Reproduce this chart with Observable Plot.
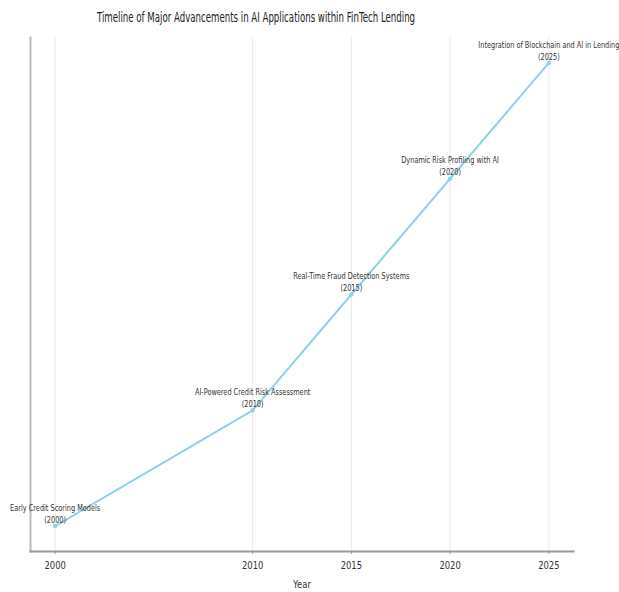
<!DOCTYPE html>
<html>
<head>
<meta charset="utf-8">
<script src="https://cdn.jsdelivr.net/npm/d3@7"></script>
<script src="https://cdn.jsdelivr.net/npm/@observablehq/plot@0.6"></script>
<style>
  html, body { margin: 0; padding: 0; background: #fff; }
  #wrap { width: 619px; height: 592px; position: relative; overflow: hidden; font-family: "DejaVu Sans", sans-serif; }
  #title { position: relative; height: 30px; }
  #title span { position: absolute; left: 256px; top: 10px; font-size: 14px; color: #222; white-space: nowrap; line-height: 1; transform-origin: center; }
  svg { display: block; }
</style>
</head>
<body>
<div id="wrap">
  <div id="title"><span id="t">Timeline of Major Advancements in AI Applications within FinTech Lending</span></div>
  <div id="chart"></div>
</div>
<script>
const years = [2000, 2010, 2015, 2020, 2025];
const milestones = [
  "Early Credit Scoring Models",
  "AI-Powered Credit Risk Assessment",
  "Real-Time Fraud Detection Systems",
  "Dynamic Risk Profiling with AI",
  "Integration of Blockchain and AI in Lending"
];
const levels = [1, 2, 3, 4, 5];
const xTicks = [2000, 2010, 2015, 2020, 2025];

const data = years.map((y, i) => ({year: y, level: levels[i], milestone: milestones[i], yearLabel: `(${y})`}));

const chart = Plot.plot({
  width: 619,
  height: 562,
  marginTop: 7,
  marginBottom: 41,
  marginLeft: 30,
  marginRight: 46,
  style: {fontFamily: "DejaVu Sans", background: "white", color: "#333"},
  x: {domain: [1998.75, 2026.25]},
  y: {domain: [0.78, 5.22], axis: null},
  marks: [
    Plot.gridX(xTicks, {stroke: "#e4e4e4", strokeOpacity: 1, strokeWidth: 0.8}),
    Plot.frame({anchor: "left", stroke: "#bbb", strokeWidth: 2}),
    Plot.frame({anchor: "bottom", stroke: "#999", strokeWidth: 2}),
    Plot.line(data, {x: "year", y: "level", stroke: "#8fd0ea", strokeWidth: 2}),
    Plot.dot(data, {x: "year", y: "level", r: 2.2, fill: "#8fd0ea"}),
    Plot.text(data, {x: "year", y: "level", text: "milestone", dy: -18, fontSize: 8.2, fill: "#333"}),
    Plot.text(data, {x: "year", y: "level", text: "yearLabel", dy: -6, fontSize: 8.2, fill: "#333"}),
    Plot.axisX(xTicks, {tickFormat: "d", tickSize: 3, tickPadding: 7, fontSize: 10.5, stroke: "#999", fill: "#333", label: null}),
    Plot.text(["Year"], {frameAnchor: "bottom", dy: 36, fontSize: 10.5, fill: "#333"})
  ]
});
document.getElementById("chart").appendChild(chart);

// horizontal compression to match the reference's aspect
const squeeze = 0.80;
chart.querySelectorAll("text").forEach(el => {
  const w = el.getComputedTextLength();
  if (w > 0) {
    el.setAttribute("textLength", (w * squeeze).toFixed(2));
    el.setAttribute("lengthAdjust", "spacingAndGlyphs");
  }
});
const t = document.getElementById("t");
const tw = t.offsetWidth;
const s = 318 / tw;
t.style.transform = `translateX(-50%) scaleX(${s})`;
</script>
</body>
</html>
